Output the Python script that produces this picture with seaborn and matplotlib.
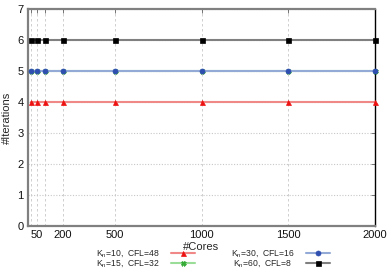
import matplotlib
matplotlib.use("Agg")
import matplotlib.pyplot as plt
import seaborn as sns
import pandas as pd
from matplotlib.ticker import FixedLocator, FixedFormatter

cores = [16, 50, 100, 200, 500, 1000, 1500, 2000]
tick_labels = ["", "50", "", "200", "500", "1000", "1500", "2000"]
iters_kn10 = [4, 4, 4, 4, 4, 4, 4, 4]
iters_kn15 = [5, 5, 5, 5, 5, 5, 5, 5]
iters_kn30 = [5, 5, 5, 5, 5, 5, 5, 5]
iters_kn60 = [6, 6, 6, 6, 6, 6, 6, 6]
labels = ["K$_n$=10,  CFL=48", "K$_n$=15,  CFL=32", "K$_n$=30,  CFL=16", "K$_n$=60,  CFL=8"]

sns.set_style("white")
plt.rcParams['font.family'] = ['Liberation Sans', 'DejaVu Sans']
plt.rcParams['mathtext.fontset'] = 'custom'
plt.rcParams['mathtext.rm'] = 'Liberation Sans'
plt.rcParams['mathtext.it'] = 'Liberation Sans'

fig = plt.figure(figsize=(3.9, 2.73), dpi=100)
ax = fig.add_axes([28/390, 1-226/273, (375-28)/390, (226-9.3)/273])

styles = [
    (iters_kn10, "#f08888", "#ee1111", "^", 3.6),
    (iters_kn15, "#99dd99", "#33aa33", "X", 3.6),
    (iters_kn30, "#93a9d6", "#2f4fb0", "o", 3.6),
    (iters_kn60, "#808080", "#000000", "s", 3.6),
]
for (vals, lc, mc, mk, ms), lab in zip(styles, labels):
    df = pd.DataFrame({"cores": cores, "iters": vals})
    sns.lineplot(data=df, x="cores", y="iters", ax=ax, color=lc, linewidth=1.5,
                 marker=mk, markersize=ms, markerfacecolor=mc, markeredgecolor=mc,
                 markeredgewidth=0.5, label=lab, clip_on=False, zorder=3)

ax.set_xlim(0, 2000)
ax.set_ylim(0, 7)
ax.xaxis.set_major_locator(FixedLocator(cores))
ax.xaxis.set_major_formatter(FixedFormatter(tick_labels))
ax.set_yticks(range(0, 8))
ax.xaxis.grid(True, linestyle=(0, (3, 3)), color="#c8c8c8", linewidth=0.6)
ax.yaxis.grid(True, linestyle=(0, (1, 1.5)), color="#c8c8c8", linewidth=0.8)
ax.tick_params(axis='both', direction='in', length=3, width=0.6, colors="#606060",
               labelcolor="#111111", labelsize=8, top=True, right=True, pad=3)

for s in ["left", "top", "bottom"]:
    ax.spines[s].set_color("#808080")
    ax.spines[s].set_linewidth(1.6)
ax.spines["right"].set_color("#000000")
ax.spines["right"].set_linewidth(1.0)

ax.set_xlabel("#Cores", fontsize=8, labelpad=1)
ax.set_ylabel("#Iterations", fontsize=8, labelpad=4)

handles, labs = ax.get_legend_handles_labels()
labs = [l + ("  " if l.endswith("CFL=8") else "") for l in labs]
leg = ax.legend(handles, labs, loc="center", bbox_to_anchor=(213/390, 1-258.5/273),
                bbox_transform=fig.transFigure, ncol=2, frameon=False,
                markerfirst=False, fontsize=6.2, labelspacing=-0.08,
                handlelength=2.8, handletextpad=1.3, columnspacing=4.2,
                borderpad=0, handleheight=0.5)

fig.savefig("out.png", dpi=100)
